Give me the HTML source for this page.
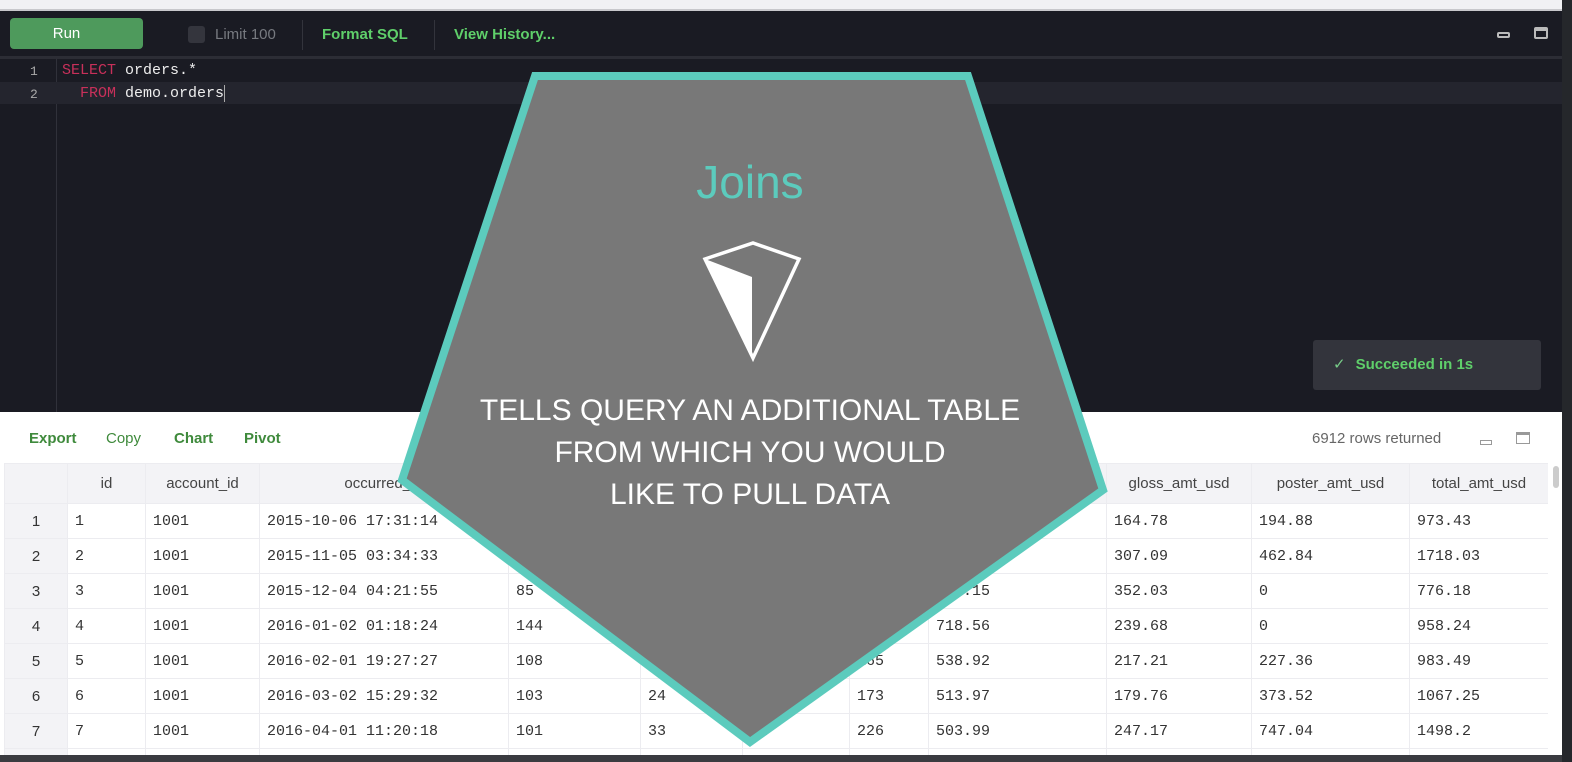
<!DOCTYPE html>
<html><head><meta charset="utf-8"><style>
*{margin:0;padding:0;box-sizing:border-box}
html,body{width:1572px;height:762px;overflow:hidden}
body{background:#1a1b23;position:relative;font-family:"Liberation Sans",sans-serif}
.abs{position:absolute}
.mono{font-family:"Liberation Mono",monospace}
#tw{position:absolute;left:4px;top:463px;width:1544px;height:292px;overflow:hidden}
table{border-collapse:collapse;width:1544px;table-layout:fixed}
td,th{height:35px;border:1px solid #ececf0;font-size:15px;color:#333;padding-left:7px;text-align:left;white-space:nowrap;overflow:hidden}
th{height:40px;background:#f3f3f6;font-weight:normal;text-align:center;padding:0;color:#444}
td{font-family:"Liberation Mono",monospace}
td:first-child{background:#f3f3f6;text-align:center;padding:0;font-family:"Liberation Sans",sans-serif}
</style></head><body>
<div class="abs" style="left:0;top:0;width:1562px;height:9px;background:#f1f1f4"></div>
<div class="abs" style="left:0;top:9px;width:1562px;height:2px;background:#c8c8cc"></div>
<div class="abs" style="left:10px;top:18px;width:133px;height:31px;background:#4e9a5c;border-radius:4px;color:#fff;font-size:15px;text-align:center;line-height:31px"><span style="margin-left:-20px">Run</span></div>
<div class="abs" style="left:188px;top:26px;width:17px;height:17px;background:#34353d;border-radius:3px"></div>
<div class="abs" style="left:215px;top:26px;color:#777a80;font-size:15px">Limit 100</div>
<div class="abs" style="left:302px;top:20px;width:1px;height:30px;background:#33343c"></div>
<div class="abs" style="left:322px;top:26px;color:#5fcf6a;font-size:15px;font-weight:bold">Format SQL</div>
<div class="abs" style="left:434px;top:20px;width:1px;height:30px;background:#33343c"></div>
<div class="abs" style="left:454px;top:26px;color:#5fcf6a;font-size:15px;font-weight:bold">View History...</div>
<div class="abs" style="left:1497px;top:32px;width:13px;height:6px;border:2px solid #bbb;border-radius:2px"></div>
<div class="abs" style="left:1534px;top:27px;width:14px;height:12px;border:2px solid #bbb;border-top-width:4px;border-radius:2px"></div>
<div class="abs" style="left:0;top:56px;width:1562px;height:3px;background:#2c2d35"></div>
<div class="abs" style="left:56px;top:59px;width:1px;height:353px;background:#30313a"></div>
<div class="abs" style="left:0;top:82px;width:1562px;height:22px;background:#24252e"></div>
<div class="abs mono" style="left:30px;top:60px;color:#aaa;font-size:13px;line-height:23px">1<br>2</div>
<div class="abs mono" style="left:62px;top:59px;color:#eee;font-size:15px;line-height:23px;white-space:pre"><span style="color:#c8305a">SELECT</span> orders.*
  <span style="color:#c8305a">FROM</span> demo.orders<span style="border-left:1px solid #aaa"></span></div>
<div class="abs" style="left:1313px;top:340px;width:228px;height:50px;background:#33343c;border-radius:3px;color:#5fcf6a;font-size:15px;font-weight:bold;line-height:50px;padding-left:20px"><span style="color:#7c8;font-weight:normal;margin-right:10px">✓</span>Succeeded in 1s</div>
<div class="abs" style="left:0;top:412px;width:1562px;height:343px;background:#fff"></div>
<div class="abs" style="left:29px;top:430px;color:#3f8a3c;font-size:15px;font-weight:bold">Export</div>
<div class="abs" style="left:106px;top:430px;color:#3f8a3c;font-size:15px">Copy</div>
<div class="abs" style="left:174px;top:430px;color:#3f8a3c;font-size:15px;font-weight:bold">Chart</div>
<div class="abs" style="left:244px;top:430px;color:#3f8a3c;font-size:15px;font-weight:bold">Pivot</div>
<div class="abs" style="left:1312px;top:430px;color:#666;font-size:15px">6912 rows returned</div>
<div class="abs" style="left:1480px;top:440px;width:12px;height:5px;border:1.5px solid #999"></div>
<div class="abs" style="left:1516px;top:432px;width:14px;height:12px;border:1.5px solid #999;border-top-width:3px"></div>
<div class="abs" style="left:1553px;top:466px;width:6px;height:22px;background:#ccc;border-radius:3px"></div>
<div id="tw"><table>
<colgroup><col style="width:63px"><col style="width:78px"><col style="width:114px"><col style="width:249px"><col style="width:132px"><col style="width:102px"><col style="width:107px"><col style="width:79px"><col style="width:178px"><col style="width:145px"><col style="width:158px"><col style="width:139px"></colgroup>
<tr><th></th><th>id</th><th>account_id</th><th>occurred_at</th><th>standard_qty</th><th>gloss_qty</th><th>poster_qty</th><th>total</th><th>standard_amt_usd</th><th>gloss_amt_usd</th><th>poster_amt_usd</th><th>total_amt_usd</th></tr>
<tr><td>1</td><td>1</td><td>1001</td><td>2015-10-06 17:31:14</td><td>123</td><td>22</td><td>24</td><td>169</td><td>613.77</td><td>164.78</td><td>194.88</td><td>973.43</td></tr>
<tr><td>2</td><td>2</td><td>1001</td><td>2015-11-05 03:34:33</td><td>190</td><td>41</td><td>57</td><td>288</td><td>948.10</td><td>307.09</td><td>462.84</td><td>1718.03</td></tr>
<tr><td>3</td><td>3</td><td>1001</td><td>2015-12-04 04:21:55</td><td>85</td><td>47</td><td>0</td><td>132</td><td>424.15</td><td>352.03</td><td>0</td><td>776.18</td></tr>
<tr><td>4</td><td>4</td><td>1001</td><td>2016-01-02 01:18:24</td><td>144</td><td>32</td><td>0</td><td>176</td><td>718.56</td><td>239.68</td><td>0</td><td>958.24</td></tr>
<tr><td>5</td><td>5</td><td>1001</td><td>2016-02-01 19:27:27</td><td>108</td><td>29</td><td>28</td><td>165</td><td>538.92</td><td>217.21</td><td>227.36</td><td>983.49</td></tr>
<tr><td>6</td><td>6</td><td>1001</td><td>2016-03-02 15:29:32</td><td>103</td><td>24</td><td>46</td><td>173</td><td>513.97</td><td>179.76</td><td>373.52</td><td>1067.25</td></tr>
<tr><td>7</td><td>7</td><td>1001</td><td>2016-04-01 11:20:18</td><td>101</td><td>33</td><td>92</td><td>226</td><td>503.99</td><td>247.17</td><td>747.04</td><td>1498.2</td></tr>
<tr><td>8</td><td>8</td><td>1001</td><td>2016-05-01 15:55:51</td><td>95</td><td>47</td><td>151</td><td>293</td><td>474.05</td><td>352.03</td><td>1226.12</td><td>2052.2</td></tr>
</table></div>
<div class="abs" style="left:0;top:755px;width:1572px;height:7px;background:#3a3b40"></div>
<div class="abs" style="left:1562px;top:0;width:10px;height:762px;background:#25272b"></div>
<svg class="abs" style="left:0;top:0" width="1572" height="762">
<polygon points="535,76 968,76 1103,490 750,742 402,480" fill="#787878" stroke="#5ccbbd" stroke-width="8" stroke-linejoin="miter"/>
<polygon points="705,259 753,243 799,259 753,358" fill="none" stroke="#fff" stroke-width="3.5" stroke-linejoin="miter"/>
<polygon points="705,259 752,277 752,358" fill="#fff"/>
<text x="750" y="198" text-anchor="middle" fill="#5ccbbd" font-family="Liberation Sans,sans-serif" font-size="46">Joins</text>
<g fill="#fff" font-family="Liberation Sans,sans-serif" font-size="30" text-anchor="middle">
<text x="750" y="420">TELLS QUERY AN ADDITIONAL TABLE</text>
<text x="750" y="462">FROM WHICH YOU WOULD</text>
<text x="750" y="504">LIKE TO PULL DATA</text>
</g>
</svg>
</body></html>
